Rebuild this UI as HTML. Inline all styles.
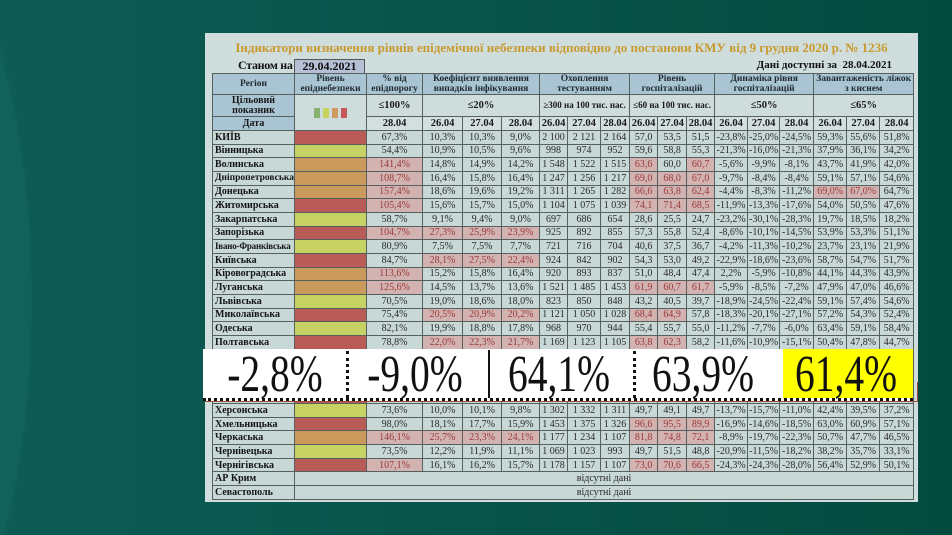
<!DOCTYPE html>
<html><head><meta charset="utf-8">
<style>
html,body{margin:0;padding:0;width:952px;height:535px;overflow:hidden;}
body{background:#064f45;}
#w{position:relative;width:952px;height:535px;overflow:hidden;
 background:radial-gradient(ellipse 200px 560px at -110px 300px,#11625a 0%,#11625a 70%,rgba(17,98,90,0) 72%),linear-gradient(90deg,#0d5b53 0%,#0b5850 25%,#075247 60%,#034a3f 100%);}
#panel{position:absolute;left:205px;top:33px;width:713px;height:469px;background:#cfdedd;}
#title{position:absolute;left:205px;top:40px;width:713px;text-align:center;font:bold 13px "Liberation Serif",serif;color:#c89a30;white-space:nowrap;}
#stan{position:absolute;left:238px;top:58px;font:bold 12px "Liberation Serif",serif;letter-spacing:-0.3px;color:#111;white-space:nowrap;}
#date{position:absolute;left:294px;top:59px;width:71px;height:14px;background:#b5bfd5;border:1px solid #555;border-bottom:none;box-sizing:border-box;text-align:center;font:bold 12px/13px "Liberation Serif",serif;color:#111;}
#dani{position:absolute;right:60px;top:59px;font:bold 11px "Liberation Serif",serif;color:#111;white-space:nowrap;}
table{position:absolute;left:212px;top:73px;width:701px;border-collapse:collapse;table-layout:fixed;font-family:"Liberation Serif",serif;font-size:10px;color:#2a2a2a;}
td{border:1px solid #56605f;padding:0;text-align:center;white-space:nowrap;overflow:hidden;background:#c7d8d6;line-height:11px;}
tr.d{height:13.67px;}
tr.h1{height:21px;}
tr.h2{height:22px;}
tr.h3{height:14px;}
tr.h1 td{background:#a9c4d2;font-weight:bold;font-size:9.5px;line-height:10px;color:#1e2a30;}
tr.h2 td{background:#cfdcdc;font-weight:bold;font-size:10.5px;color:#1a1a1a;}
tr.h3 td{background:#d3dfdf;font-weight:bold;font-size:10.5px;color:#1a1a1a;}
td.bl{background:#a9c4d2 !important;font-size:10px !important;line-height:10px;}
td.n{text-align:left;padding-left:2px;font-weight:bold;color:#151515;}
td.r{background:#b95b57;}
td.y{background:#c6d364;}
td.o{background:#c99a5c;}
td.h{background:#d2b3b1;color:#9a3a3a;}
td.na{text-align:center;}
.sq{display:inline-block;width:6px;height:10px;margin:0 1.5px;vertical-align:middle;}
#ov{position:absolute;left:203px;top:349px;width:710px;height:49px;background:#fff;border-bottom:3px dotted #111;}
#yel{position:absolute;left:580px;top:0;width:130px;height:49px;background:#ffff00;}
.vs{position:absolute;top:2px;height:47px;}
.big{position:absolute;top:0;width:200px;text-align:center;font:52px/52px "Liberation Serif",serif;color:#111;transform:scaleX(.76);transform-origin:center;white-space:nowrap;}
</style></head><body>
<div id="w">
<div id="panel"></div>
<div id="title">Індикатори визначення рівнів епідемічної небезпеки відповідно до постанови КМУ від 9 грудня 2020 р. № 1236</div>
<div id="stan">Станом на</div>
<div id="date">29.04.2021</div>
<div id="dani">Дані доступні за&nbsp; 28.04.2021</div>
<table>
<colgroup>
<col style="width:82px"><col style="width:72px"><col style="width:56px">
<col style="width:40px"><col style="width:39px"><col style="width:38px">
<col style="width:28px"><col style="width:33px"><col style="width:29px">
<col style="width:28px"><col style="width:29px"><col style="width:28px">
<col style="width:33px"><col style="width:32px"><col style="width:34px">
<col style="width:33px"><col style="width:33px"><col style="width:34px">
</colgroup>
<tr class="h1"><td>Регіон</td><td>Рівень<br>епіднебезпеки</td><td>% від<br>епідпорогу</td><td colspan="3">Коефіцієнт виявлення<br>випадків інфікування</td><td colspan="3">Охоплення<br>тестуванням</td><td colspan="3">Рівень<br>госпіталізацій</td><td colspan="3">Динаміка рівня<br>госпіталізацій</td><td colspan="3">Завантаженість ліжок<br>з киснем</td></tr>
<tr class="h2"><td class="bl">Цільовий<br>показник</td><td rowspan="2" style="background:#cfdcdc"><span class="sq" style="background:#86b16e"></span><span class="sq" style="background:#c7d35a"></span><span class="sq" style="background:#cf9b62"></span><span class="sq" style="background:#c4585a"></span></td><td>≤100%</td><td colspan="3">≤20%</td><td colspan="3" style="font-size:9px">≥300 на 100 тис. нас.</td><td colspan="3" style="font-size:9px">≤60 на 100 тис. нас.</td><td colspan="3">≤50%</td><td colspan="3">≤65%</td></tr>
<tr class="h3"><td class="bl" style="font-size:10px">Дата</td><td>28.04</td><td>26.04</td><td>27.04</td><td>28.04</td><td>26.04</td><td>27.04</td><td>28.04</td><td>26.04</td><td>27.04</td><td>28.04</td><td>26.04</td><td>27.04</td><td>28.04</td><td>26.04</td><td>27.04</td><td>28.04</td></tr>
<tr class="d"><td class="n">КИЇВ</td><td class="r"></td><td>67,3%</td><td>10,3%</td><td>10,3%</td><td>9,0%</td><td>2 100</td><td>2 121</td><td>2 164</td><td>57,0</td><td>53,5</td><td>51,5</td><td>-23,8%</td><td>-25,0%</td><td>-24,5%</td><td>59,3%</td><td>55,6%</td><td>51,8%</td></tr>
<tr class="d"><td class="n">Вінницька</td><td class="y"></td><td>54,4%</td><td>10,9%</td><td>10,5%</td><td>9,6%</td><td>998</td><td>974</td><td>952</td><td>59,6</td><td>58,8</td><td>55,3</td><td>-21,3%</td><td>-16,0%</td><td>-21,3%</td><td>37,9%</td><td>36,1%</td><td>34,2%</td></tr>
<tr class="d"><td class="n">Волинська</td><td class="o"></td><td class="h">141,4%</td><td>14,8%</td><td>14,9%</td><td>14,2%</td><td>1 548</td><td>1 522</td><td>1 515</td><td class="h">63,6</td><td>60,0</td><td class="h">60,7</td><td>-5,6%</td><td>-9,9%</td><td>-8,1%</td><td>43,7%</td><td>41,9%</td><td>42,0%</td></tr>
<tr class="d"><td class="n" style="font-size:9.5px">Дніпропетровська</td><td class="o"></td><td class="h">108,7%</td><td>16,4%</td><td>15,8%</td><td>16,4%</td><td>1 247</td><td>1 256</td><td>1 217</td><td class="h">69,0</td><td class="h">68,0</td><td class="h">67,0</td><td>-9,7%</td><td>-8,4%</td><td>-8,4%</td><td>59,1%</td><td>57,1%</td><td>54,6%</td></tr>
<tr class="d"><td class="n">Донецька</td><td class="o"></td><td class="h">157,4%</td><td>18,6%</td><td>19,6%</td><td>19,2%</td><td>1 311</td><td>1 265</td><td>1 282</td><td class="h">66,6</td><td class="h">63,8</td><td class="h">62,4</td><td>-4,4%</td><td>-8,3%</td><td>-11,2%</td><td class="h">69,0%</td><td class="h">67,0%</td><td>64,7%</td></tr>
<tr class="d"><td class="n">Житомирська</td><td class="r"></td><td class="h">105,4%</td><td>15,6%</td><td>15,7%</td><td>15,0%</td><td>1 104</td><td>1 075</td><td>1 039</td><td class="h">74,1</td><td class="h">71,4</td><td class="h">68,5</td><td>-11,9%</td><td>-13,3%</td><td>-17,6%</td><td>54,0%</td><td>50,5%</td><td>47,6%</td></tr>
<tr class="d"><td class="n">Закарпатська</td><td class="y"></td><td>58,7%</td><td>9,1%</td><td>9,4%</td><td>9,0%</td><td>697</td><td>686</td><td>654</td><td>28,6</td><td>25,5</td><td>24,7</td><td>-23,2%</td><td>-30,1%</td><td>-28,3%</td><td>19,7%</td><td>18,5%</td><td>18,2%</td></tr>
<tr class="d"><td class="n">Запорізька</td><td class="r"></td><td class="h">104,7%</td><td class="h">27,3%</td><td class="h">25,9%</td><td class="h">23,9%</td><td>925</td><td>892</td><td>855</td><td>57,3</td><td>55,8</td><td>52,4</td><td>-8,6%</td><td>-10,1%</td><td>-14,5%</td><td>53,9%</td><td>53,3%</td><td>51,1%</td></tr>
<tr class="d"><td class="n" style="font-size:9px;letter-spacing:-0.2px">Івано-Франківська</td><td class="y"></td><td>80,9%</td><td>7,5%</td><td>7,5%</td><td>7,7%</td><td>721</td><td>716</td><td>704</td><td>40,6</td><td>37,5</td><td>36,7</td><td>-4,2%</td><td>-11,3%</td><td>-10,2%</td><td>23,7%</td><td>23,1%</td><td>21,9%</td></tr>
<tr class="d"><td class="n">Київська</td><td class="r"></td><td>84,7%</td><td class="h">28,1%</td><td class="h">27,5%</td><td class="h">22,4%</td><td>924</td><td>842</td><td>902</td><td>54,3</td><td>53,0</td><td>49,2</td><td>-22,9%</td><td>-18,6%</td><td>-23,6%</td><td>58,7%</td><td>54,7%</td><td>51,7%</td></tr>
<tr class="d"><td class="n">Кіровоградська</td><td class="o"></td><td class="h">113,6%</td><td>15,2%</td><td>15,8%</td><td>16,4%</td><td>920</td><td>893</td><td>837</td><td>51,0</td><td>48,4</td><td>47,4</td><td>2,2%</td><td>-5,9%</td><td>-10,8%</td><td>44,1%</td><td>44,3%</td><td>43,9%</td></tr>
<tr class="d"><td class="n">Луганська</td><td class="o"></td><td class="h">125,6%</td><td>14,5%</td><td>13,7%</td><td>13,6%</td><td>1 521</td><td>1 485</td><td>1 453</td><td class="h">61,9</td><td class="h">60,7</td><td class="h">61,7</td><td>-5,9%</td><td>-8,5%</td><td>-7,2%</td><td>47,9%</td><td>47,0%</td><td>46,6%</td></tr>
<tr class="d"><td class="n">Львівська</td><td class="y"></td><td>70,5%</td><td>19,0%</td><td>18,6%</td><td>18,0%</td><td>823</td><td>850</td><td>848</td><td>43,2</td><td>40,5</td><td>39,7</td><td>-18,9%</td><td>-24,5%</td><td>-22,4%</td><td>59,1%</td><td>57,4%</td><td>54,6%</td></tr>
<tr class="d"><td class="n">Миколаївська</td><td class="r"></td><td>75,4%</td><td class="h">20,5%</td><td class="h">20,9%</td><td class="h">20,2%</td><td>1 121</td><td>1 050</td><td>1 028</td><td class="h">68,4</td><td class="h">64,9</td><td>57,8</td><td>-18,3%</td><td>-20,1%</td><td>-27,1%</td><td>57,2%</td><td>54,3%</td><td>52,4%</td></tr>
<tr class="d"><td class="n">Одеська</td><td class="y"></td><td>82,1%</td><td>19,9%</td><td>18,8%</td><td>17,8%</td><td>968</td><td>970</td><td>944</td><td>55,4</td><td>55,7</td><td>55,0</td><td>-11,2%</td><td>-7,7%</td><td>-6,0%</td><td>63,4%</td><td>59,1%</td><td>58,4%</td></tr>
<tr class="d"><td class="n">Полтавська</td><td class="r"></td><td>78,8%</td><td class="h">22,0%</td><td class="h">22,3%</td><td class="h">21,7%</td><td>1 169</td><td>1 123</td><td>1 105</td><td class="h">63,8</td><td class="h">62,3</td><td>58,2</td><td>-11,6%</td><td>-10,9%</td><td>-15,1%</td><td>50,4%</td><td>47,8%</td><td>44,7%</td></tr>
<tr class="d"><td class="n">Рівненська</td><td class="o"></td><td></td><td></td><td></td><td></td><td></td><td></td><td></td><td></td><td></td><td></td><td></td><td></td><td></td><td></td><td></td><td></td></tr>
<tr class="d"><td class="n">Сумська</td><td class="o"></td><td></td><td></td><td></td><td></td><td></td><td></td><td></td><td></td><td></td><td></td><td></td><td></td><td></td><td></td><td></td><td></td></tr>
<tr class="d"><td class="n">Тернопільська</td><td class="o"></td><td></td><td></td><td></td><td></td><td></td><td></td><td></td><td></td><td></td><td></td><td></td><td></td><td></td><td></td><td></td><td></td></tr>
<tr class="d"><td class="n">Харківська</td><td class="r"></td><td></td><td></td><td></td><td></td><td></td><td></td><td></td><td></td><td></td><td></td><td></td><td></td><td></td><td></td><td></td><td></td></tr>
<tr class="d"><td class="n">Херсонська</td><td class="y"></td><td>73,6%</td><td>10,0%</td><td>10,1%</td><td>9,8%</td><td>1 302</td><td>1 332</td><td>1 311</td><td>49,7</td><td>49,1</td><td>49,7</td><td>-13,7%</td><td>-15,7%</td><td>-11,0%</td><td>42,4%</td><td>39,5%</td><td>37,2%</td></tr>
<tr class="d"><td class="n">Хмельницька</td><td class="r"></td><td>98,0%</td><td>18,1%</td><td>17,7%</td><td>15,9%</td><td>1 453</td><td>1 375</td><td>1 326</td><td class="h">96,6</td><td class="h">95,5</td><td class="h">89,9</td><td>-16,9%</td><td>-14,6%</td><td>-18,5%</td><td>63,0%</td><td>60,9%</td><td>57,1%</td></tr>
<tr class="d"><td class="n">Черкаська</td><td class="o"></td><td class="h">146,1%</td><td class="h">25,7%</td><td class="h">23,3%</td><td class="h">24,1%</td><td>1 177</td><td>1 234</td><td>1 107</td><td class="h">81,8</td><td class="h">74,8</td><td class="h">72,1</td><td>-8,9%</td><td>-19,7%</td><td>-22,3%</td><td>50,7%</td><td>47,7%</td><td>46,5%</td></tr>
<tr class="d"><td class="n">Чернівецька</td><td class="y"></td><td>73,5%</td><td>12,2%</td><td>11,9%</td><td>11,1%</td><td>1 069</td><td>1 023</td><td>993</td><td>49,7</td><td>51,5</td><td>48,8</td><td>-20,9%</td><td>-11,5%</td><td>-18,2%</td><td>38,2%</td><td>35,7%</td><td>33,1%</td></tr>
<tr class="d"><td class="n">Чернігівська</td><td class="r"></td><td class="h">107,1%</td><td>16,1%</td><td>16,2%</td><td>15,7%</td><td>1 178</td><td>1 157</td><td>1 107</td><td class="h">73,0</td><td class="h">70,6</td><td class="h">66,5</td><td>-24,3%</td><td>-24,3%</td><td>-28,0%</td><td>56,4%</td><td>52,9%</td><td>50,1%</td></tr>
<tr class="d"><td class="n">АР Крим</td><td class="na" colspan="17">відсутні дані</td></tr>
<tr class="d"><td class="n">Севастополь</td><td class="na" colspan="17">відсутні дані</td></tr>
</table>

<div style="position:absolute;left:205px;top:401px;width:713px;height:1px;background:#a04a3a"></div>
<div style="position:absolute;left:917px;top:382px;width:1px;height:20px;background:#a04a3a"></div>

<div id="ov">
 <div id="yel"></div>
 <div class="vs" style="left:143px;border-left:3px dotted #111"></div>
 <div class="vs" style="left:285px;width:2px;background:#111;top:1px;height:48px"></div>
 <div class="vs" style="left:430px;border-left:3px dotted #111"></div>
 <div class="big" style="left:-28px">-2,8%</div>
 <div class="big" style="left:112px">-9,0%</div>
 <div class="big" style="left:256px">64,1%</div>
 <div class="big" style="left:400px">63,9%</div>
 <div class="big" style="left:543px">61,4%</div>
</div>
</div>
</body></html>
